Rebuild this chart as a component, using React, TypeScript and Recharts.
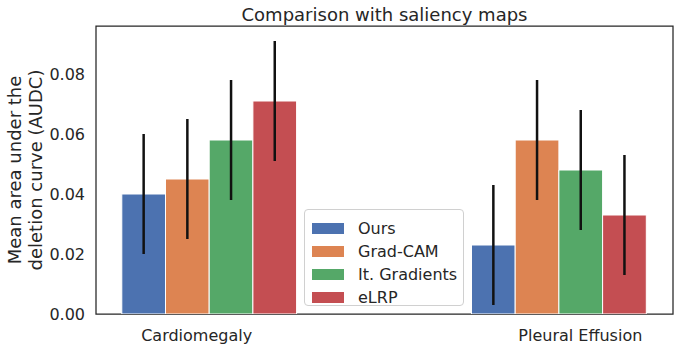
import {
  Bar,
  BarChart,
  Customized,
  ErrorBar,
  Legend,
  ReferenceArea,
  XAxis,
  YAxis,
} from "recharts"

const categories = ["Cardiomegaly", "Pleural Effusion"]
const methods = ["Ours", "Grad-CAM", "It. Gradients", "eLRP"]
const methodKeys = ["ours", "gradcam", "itgrad", "elrp"]
const colors = ["#4C72B0", "#DD8452", "#55A868", "#C44E52"]

const ours = [0.04, 0.023]
const gradcam = [0.045, 0.058]
const itgrad = [0.058, 0.048]
const elrp = [0.071, 0.033]

const oursErr = [0.02, 0.02]
const gradcamErr = [0.02, 0.02]
const itgradErr = [0.02, 0.02]
const elrpErr = [0.02, 0.02]

const yTicks = [0, 0.02, 0.04, 0.06, 0.08]

const values = [ours, gradcam, itgrad, elrp]
const errors = [oursErr, gradcamErr, itgradErr, elrpErr]

const data = categories.map((name, i) => {
  const row: Record<string, number | string> = { x: i, name }
  methodKeys.forEach((key, m) => {
    row[key] = values[m][i]
    row[`${key}Err`] = errors[m][i]
  })
  return row
})

const FONT = "DejaVu Sans"
const TEXT = "#262626"
const X_DOMAIN: [number, number] = [-0.325, 1.325]
const Y_DOMAIN: [number, number] = [0, 0.096]

// matplotlib put the labels a little off the group centres
const tickShift = [-13, 21]

function CategoryTick(props: any) {
  const { x, y, payload, index } = props
  return (
    <text
      x={x + (tickShift[index] ?? 0)}
      y={y + 19}
      textAnchor="middle"
      fontFamily={FONT}
      fontSize={16}
      fill={TEXT}
    >
      {categories[payload.value]}
    </text>
  )
}

function YLabel() {
  return (
    <g fontFamily={FONT} fontSize={18} fill={TEXT} textAnchor="middle">
      <text x={21} y={170} transform="rotate(-90, 21, 170)">
        Mean area under the
      </text>
      <text x={42} y={170} transform="rotate(-90, 42, 170)">
        deletion curve (AUDC)
      </text>
    </g>
  )
}

function Title() {
  return (
    <text x={384.5} y={21} textAnchor="middle" fontFamily={FONT} fontSize={18} fill={TEXT}>
      Comparison with saliency maps
    </text>
  )
}

function LegendBox(props: any) {
  const payload = [...(props.payload ?? [])].sort(
    (a: any, b: any) => methods.indexOf(a.value) - methods.indexOf(b.value)
  )
  return (
    <div
      style={{
        width: 160,
        height: 97,
        border: "1px solid #d0d0d0",
        borderRadius: 4,
        background: "rgba(255,255,255,0.8)",
        boxSizing: "border-box",
        paddingTop: 7,
        fontFamily: FONT,
        fontSize: 16,
        color: TEXT,
      }}
    >
      {payload.map((entry: any) => (
        <div
          key={entry.value}
          style={{ display: "flex", alignItems: "center", height: 23 }}
        >
          <span
            style={{
              width: 32,
              height: 11,
              marginLeft: 7,
              marginRight: 14,
              background: entry.color,
              display: "inline-block",
            }}
          />
          <span>{entry.value}</span>
        </div>
      ))}
    </div>
  )
}

export default function App() {
  return (
    <div style={{ position: "absolute", left: 0, top: 0, background: "#fff" }}>
      <BarChart
        width={685}
        height={346}
        data={data}
        margin={{ top: 26, right: 12, left: 0, bottom: 0 }}
        barGap={0}
        barSize={43.7}
      >
        <XAxis
          dataKey="x"
          type="number"
          domain={X_DOMAIN}
          ticks={[0, 1]}
          allowDataOverflow
          axisLine={false}
          tickLine={false}
          height={32}
          tick={<CategoryTick />}
        />
        <YAxis
          type="number"
          domain={Y_DOMAIN}
          ticks={yTicks}
          allowDataOverflow
          width={96}
          axisLine={false}
          tickLine={false}
          tickSize={0}
          tickMargin={11}
          tickFormatter={(v: number) => v.toFixed(2)}
          tick={{ fontFamily: FONT, fontSize: 16, fill: TEXT }}
        />
        {methodKeys.map((key, m) => (
          <Bar
            key={key}
            dataKey={key}
            name={methods[m]}
            fill={colors[m]}
            stroke="#ffffff"
            strokeWidth={1}
            isAnimationActive={false}
          >
            <ErrorBar
              dataKey={`${key}Err`}
              direction="y"
              width={0}
              stroke="#111111"
              strokeWidth={2.5}
              isAnimationActive={false}
            />
          </Bar>
        ))}
        <ReferenceArea
          x1={X_DOMAIN[0]}
          x2={X_DOMAIN[1]}
          y1={Y_DOMAIN[0]}
          y2={Y_DOMAIN[1]}
          fill="none"
          stroke={TEXT}
          strokeWidth={1.25}
          ifOverflow="visible"
        />
        <Legend
          layout="horizontal"
          verticalAlign="middle"
          align="center"
          content={<LegendBox />}
          wrapperStyle={{ left: 304, top: 209, width: 160, height: 97 }}
        />
        <Customized component={<Title />} />
        <Customized component={<YLabel />} />
      </BarChart>
    </div>
  )
}
